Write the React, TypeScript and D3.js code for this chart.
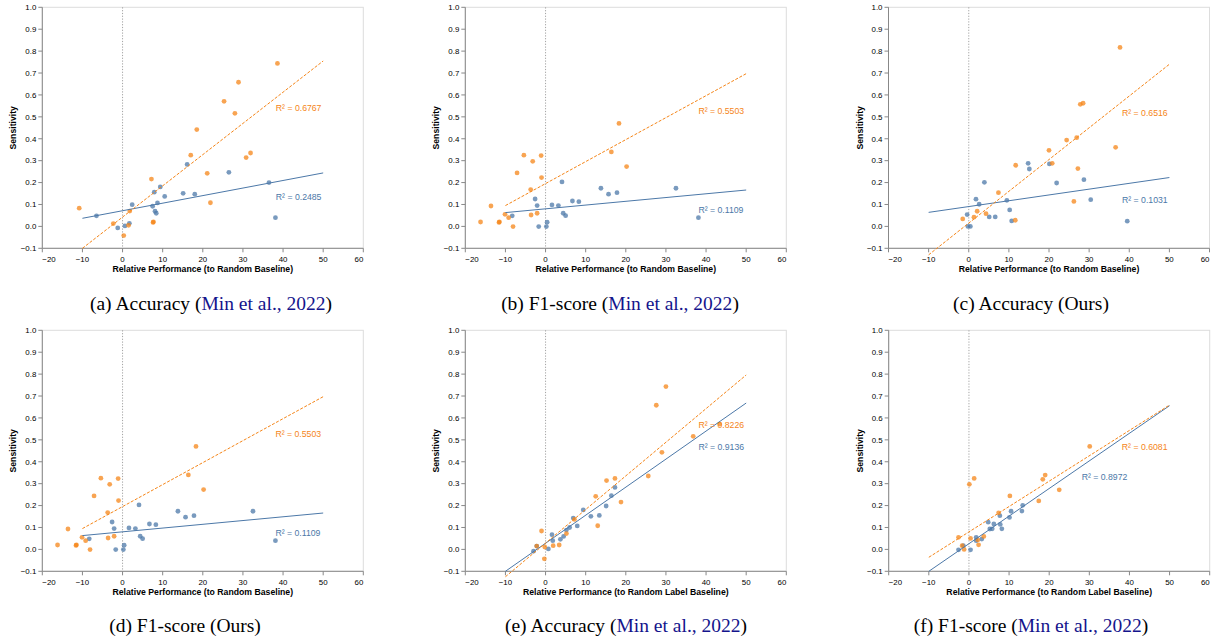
import React, { useEffect, useRef } from "react";
import * as d3 from "d3";

type Pt = [number, number];

// (a) accuracy, Min et al. 2022
const aOrange: Pt[] = [
  [-10.8, 0.083], [-2.3, 0.013], [0.3, -0.042], [1.5, 0.005], [1.8, 0.07],
  [7.2, 0.216], [7.6, 0.018], [7.7, 0.021], [17.0, 0.325], [18.5, 0.442],
  [21.1, 0.242], [21.9, 0.108], [25.3, 0.571], [28.0, 0.516], [28.9, 0.658],
  [30.8, 0.314], [31.9, 0.335], [38.6, 0.744],
];
const aBlue: Pt[] = [
  [-6.5, 0.048], [-1.2, -0.007], [0.6, 0.002], [1.7, 0.014], [2.4, 0.099],
  [7.5, 0.092], [7.9, 0.156], [8.1, 0.069], [8.4, 0.06], [8.7, 0.107],
  [9.4, 0.18], [10.5, 0.137], [15.1, 0.151], [16.1, 0.283], [18.0, 0.147],
  [26.5, 0.247], [36.5, 0.2], [38.1, 0.04],
];
const aOrangeFit: Pt[] = [[-10, -0.1], [50, 0.755]];
const aBlueFit: Pt[] = [[-10, 0.037], [50, 0.244]];
const aR2 = ["0.6767", "0.2485"];

// (b) and (d) F1-score
const bOrange: Pt[] = [
  [-16.2, 0.02], [-13.6, 0.093], [-11.6, 0.018], [-11.5, 0.021], [-10.1, 0.055],
  [-9.2, 0.04], [-8.1, -0.001], [-7.1, 0.244], [-5.4, 0.325], [-3.7, 0.168],
  [-3.6, 0.052], [-3.2, 0.297], [-2.1, 0.06], [-1.1, 0.323], [-1.0, 0.223],
  [16.4, 0.34], [18.3, 0.47], [20.2, 0.273],
];
const bBlue: Pt[] = [
  [-8.3, 0.048], [-2.6, 0.125], [-2.1, 0.095], [-1.7, -0.001], [0.2, -0.001],
  [0.4, 0.019], [1.6, 0.098], [3.2, 0.095], [4.1, 0.203], [4.4, 0.06],
  [5.0, 0.049], [6.7, 0.116], [8.3, 0.113], [13.8, 0.174], [15.7, 0.147],
  [17.8, 0.154], [32.5, 0.174], [38.1, 0.04],
];
const bOrangeFit: Pt[] = [[-10, 0.095], [50, 0.697]];
const bBlueFit: Pt[] = [[-10, 0.063], [50, 0.166]];
const bR2 = ["0.5503", "0.1109"];

// (c) accuracy, ours
const cOrange: Pt[] = [
  [-1.5, 0.034], [1.3, 0.042], [2.1, 0.069], [4.3, 0.058], [7.4, 0.154],
  [11.6, 0.028], [11.7, 0.279], [20.0, 0.347], [20.8, 0.288], [24.4, 0.394],
  [26.2, 0.114], [26.9, 0.405], [27.2, 0.264], [27.8, 0.557], [28.5, 0.562],
  [36.6, 0.361], [37.7, 0.817],
];
const cBlue: Pt[] = [
  [-0.4, 0.054], [-0.2, 0.0], [0.4, 0.0], [1.8, 0.124], [2.6, 0.101],
  [3.9, 0.201], [5.1, 0.043], [6.6, 0.043], [9.5, 0.119], [10.2, 0.075],
  [10.7, 0.025], [14.8, 0.288], [15.1, 0.262], [20.1, 0.285], [21.9, 0.198],
  [28.7, 0.213], [30.4, 0.122], [39.5, 0.024],
];
const cOrangeFit: Pt[] = [[-10, -0.13], [50, 0.74]];
const cBlueFit: Pt[] = [[-10, 0.064], [50, 0.223]];
const cR2 = ["0.6516", "0.1031"];

// (e) accuracy, random label baseline
const eOrange: Pt[] = [
  [-2.2, 0.015], [-1.0, 0.084], [-0.3, -0.043], [-0.2, 0.011], [1.9, 0.017],
  [3.4, 0.02], [5.2, 0.072], [7.2, 0.137], [12.5, 0.242], [13.0, 0.108],
  [15.2, 0.314], [17.3, 0.324], [18.8, 0.216], [25.6, 0.335], [27.6, 0.658],
  [29.0, 0.443], [30.0, 0.743], [36.8, 0.516], [43.4, 0.572],
];
const eBlue: Pt[] = [
  [-3.0, -0.008], [-2.2, 0.015], [0.7, 0.002], [1.6, 0.067], [1.8, 0.04],
  [3.7, 0.046], [4.5, 0.059], [5.2, 0.088], [6.0, 0.1], [6.9, 0.143],
  [7.9, 0.107], [9.4, 0.18], [11.3, 0.151], [13.4, 0.155], [15.1, 0.198],
  [16.4, 0.245], [17.3, 0.283],
];
const eOrangeFit: Pt[] = [[-10, -0.125], [50, 0.796]];
const eBlueFit: Pt[] = [[-10, -0.1], [50, 0.668]];
const eR2 = ["0.8226", "0.9136"];

// (f) F1-score, random label baseline
const fOrange: Pt[] = [
  [-2.6, 0.055], [-1.7, 0.017], [-1.2, 0.0], [0.1, 0.297], [1.3, 0.324],
  [0.4, 0.05], [2.2, 0.043], [2.4, 0.021], [3.7, 0.059], [7.4, 0.167],
  [10.2, 0.244], [17.4, 0.221], [18.4, 0.32], [19.0, 0.339], [22.5, 0.272],
  [30.1, 0.47],
];
const fBlue: Pt[] = [
  [-2.6, -0.002], [-1.4, 0.017], [0.4, -0.002], [1.8, 0.055], [1.8, 0.04],
  [3.2, 0.047], [4.8, 0.124], [5.2, 0.093], [5.8, 0.094], [6.2, 0.116],
  [7.7, 0.154], [7.8, 0.114], [8.2, 0.094], [10.1, 0.146], [10.5, 0.174],
  [13.2, 0.175], [13.4, 0.201],
];
const fOrangeFit: Pt[] = [[-10, -0.036], [50, 0.659]];
const fBlueFit: Pt[] = [[-10, -0.1], [50, 0.656]];
const fR2 = ["0.6081", "0.8972"];

const xTicks = [-20, -10, 0, 10, 20, 30, 40, 50, 60];
const yTicks = [-0.1, 0, 0.1, 0.2, 0.3, 0.4, 0.5, 0.6, 0.7, 0.8, 0.9, 1.0];

const titleBase = "Relative Performance (to Random Baseline)";
const titleLabel = "Relative Performance (to Random Label Baseline)";

const panels = [
  { left: 42.3, top: 7.3, orange: aOrange, blue: aBlue, oFit: aOrangeFit, bFit: aBlueFit, r2: aR2,
    oLab: [38.2, 0.539], bLab: [38.2, 0.133], xTitle: titleBase,
    cap: ["(a) Accuracy (", "Min et al., 2022", ")"], capX: 211, capY: 310 },
  { left: 465.3, top: 7.3, orange: bOrange, blue: bBlue, oFit: bOrangeFit, bFit: bBlueFit, r2: bR2,
    oLab: [38.1, 0.527], bLab: [38.1, 0.075], xTitle: titleBase,
    cap: ["(b) F1-score (", "Min et al., 2022", ")"], capX: 620, capY: 310 },
  { left: 888.5, top: 7.3, orange: cOrange, blue: cBlue, oFit: cOrangeFit, bFit: cBlueFit, r2: cR2,
    oLab: [38.2, 0.519], bLab: [38.2, 0.122], xTitle: titleBase,
    cap: ["(c) Accuracy (Ours)", "", ""], capX: 1031, capY: 310 },
  { left: 42.3, top: 330.3, orange: bOrange, blue: bBlue, oFit: bOrangeFit, bFit: bBlueFit, r2: bR2,
    oLab: [38.1, 0.527], bLab: [38.1, 0.075], xTitle: titleBase,
    cap: ["(d) F1-score (Ours)", "", ""], capX: 185, capY: 632 },
  { left: 465.3, top: 330.3, orange: eOrange, blue: eBlue, oFit: eOrangeFit, bFit: eBlueFit, r2: eR2,
    oLab: [38.1, 0.566], bLab: [38.1, 0.466], xTitle: titleLabel,
    cap: ["(e) Accuracy (", "Min et al., 2022", ")"], capX: 626, capY: 632 },
  { left: 888.7, top: 330.3, orange: fOrange, blue: fBlue, oFit: fOrangeFit, bFit: fBlueFit, r2: fR2,
    oLab: [38.1, 0.467], bLab: [28.1, 0.33], xTitle: titleLabel,
    cap: ["(f) F1-score (", "Min et al., 2022", ")"], capX: 1031, capY: 632 },
];

const BLUE = "#4c78a8";
const ORANGE = "#f58518";
const SANS = "'Liberation Sans', Arial, Helvetica, sans-serif";
const SERIF = "'Liberation Serif', 'Times New Roman', Times, serif";

export default function App() {
  const svgRef = useRef<SVGSVGElement>(null);

  useEffect(() => {
    document.body.style.margin = "0";
    const svg = d3.select(svgRef.current);
    svg.selectAll("*").remove();
    const width = 321;
    const height = 241;

    panels.forEach((p) => {
      const g = svg.append("g").attr("transform", `translate(${p.left},${p.top})`);
      const x = d3.scaleLinear().domain([-20, 60]).range([0, width]);
      const y = d3.scaleLinear().domain([-0.1, 1.0]).range([height, 0]);

      // view frame
      g.append("rect")
        .attr("width", width)
        .attr("height", height)
        .attr("fill", "none")
        .attr("stroke", "#ddd");

      // x axis
      const xa = g.append("g").attr("transform", `translate(0,${height})`);
      xa.append("line").attr("x2", width).attr("stroke", "#888");
      xa.selectAll("line.tick")
        .data(xTicks)
        .enter()
        .append("line")
        .attr("class", "tick")
        .attr("x1", (d) => x(d))
        .attr("x2", (d) => x(d))
        .attr("y2", 4)
        .attr("stroke", "#888");
      xa.selectAll("text")
        .data(xTicks)
        .enter()
        .append("text")
        .attr("x", (d) => x(d))
        .attr("y", 13.8)
        .attr("text-anchor", (d, i) => (i === 0 ? "start" : i === xTicks.length - 1 ? "end" : "middle"))
        .attr("font-family", SANS)
        .attr("font-size", 7.9)
        .attr("fill", "#000")
        .text((d) => d3.format("")(d).replace("-", "\u2212"));
      xa.append("text")
        .attr("x", width / 2)
        .attr("y", 24)
        .attr("text-anchor", "middle")
        .attr("font-family", SANS)
        .attr("font-weight", "bold")
        .attr("font-size", 8.7)
        .text(p.xTitle);

      // y axis
      const ya = g.append("g");
      ya.append("line").attr("y2", height).attr("stroke", "#888");
      ya.selectAll("line.tick")
        .data(yTicks)
        .enter()
        .append("line")
        .attr("class", "tick")
        .attr("y1", (d) => y(d))
        .attr("y2", (d) => y(d))
        .attr("x2", -4)
        .attr("stroke", "#888");
      ya.selectAll("text")
        .data(yTicks)
        .enter()
        .append("text")
        .attr("x", -6)
        .attr("y", (d) => y(d) + 2.8)
        .attr("text-anchor", "end")
        .attr("font-family", SANS)
        .attr("font-size", 7.9)
        .attr("fill", "#000")
        .text((d) => d3.format(".1f")(d).replace("-", "\u2212"));
      ya.append("text")
        .attr("transform", `translate(-26,${height / 2}) rotate(-90)`)
        .attr("text-anchor", "middle")
        .attr("font-family", SANS)
        .attr("font-weight", "bold")
        .attr("font-size", 8.7)
        .text("Sensitivity");

      // zero rule
      g.append("line")
        .attr("x1", x(0))
        .attr("x2", x(0))
        .attr("y1", 0)
        .attr("y2", height)
        .attr("stroke", "#999")
        .attr("stroke-width", 0.9)
        .attr("stroke-dasharray", "1.2,1.6");

      // points
      const drawPts = (pts: Pt[], color: string) =>
        g.append("g")
          .selectAll("circle")
          .data(pts)
          .enter()
          .append("circle")
          .attr("cx", (d) => x(d[0]))
          .attr("cy", (d) => y(d[1]))
          .attr("r", 2.4)
          .attr("fill", color)
          .attr("fill-opacity", 0.75);
      drawPts(p.blue, BLUE);
      drawPts(p.orange, ORANGE);

      // fit lines
      const line = d3
        .line<Pt>()
        .x((d) => x(d[0]))
        .y((d) => y(d[1]));
      g.append("path")
        .attr("d", line(p.bFit))
        .attr("fill", "none")
        .attr("stroke", BLUE)
        .attr("stroke-width", 1);
      g.append("path")
        .attr("d", line(p.oFit))
        .attr("fill", "none")
        .attr("stroke", ORANGE)
        .attr("stroke-width", 1)
        .attr("stroke-dasharray", "3,1.6");

      // R² labels
      [
        [p.oLab, p.r2[0], ORANGE],
        [p.bLab, p.r2[1], BLUE],
      ].forEach(([pos, val, color]: any) => {
        g.append("text")
          .attr("x", x(pos[0]))
          .attr("y", y(pos[1]) + 3.1)
          .attr("font-family", SANS)
          .attr("font-size", 8.7)
          .attr("fill", color)
          .text(`R\u00b2 = ${val}`);
      });

      // caption
      const cap = svg
        .append("text")
        .attr("x", p.capX)
        .attr("y", p.capY)
        .attr("text-anchor", "middle")
        .attr("font-family", SERIF)
        .attr("font-size", 19.5)
        .attr("fill", "#000");
      cap.append("tspan").text(p.cap[0]);
      if (p.cap[1]) {
        cap.append("tspan").attr("fill", "#14148c").text(p.cap[1]);
        cap.append("tspan").text(p.cap[2]);
      }
    });
  }, []);

  return <svg ref={svgRef} width={1214} height={644} style={{ display: "block", background: "#fff" }} />;
}
